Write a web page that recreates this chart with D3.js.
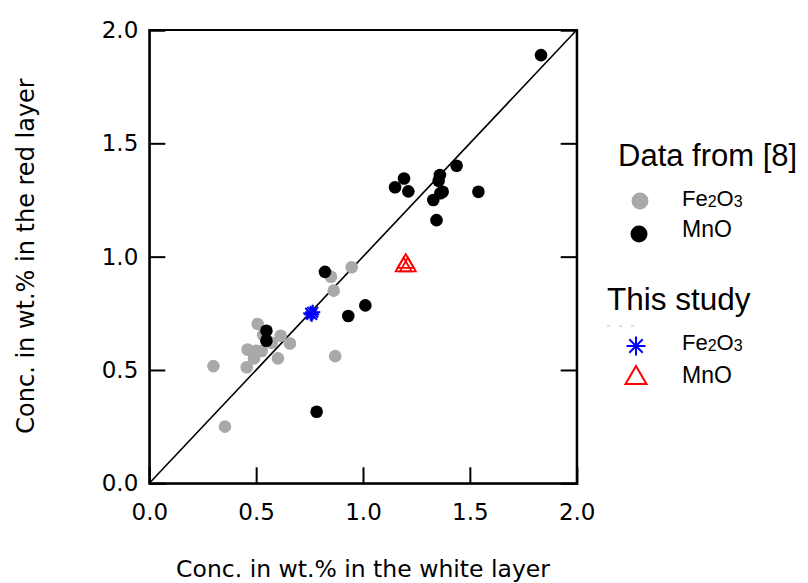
<!DOCTYPE html>
<html>
<head>
<meta charset="utf-8">
<script src="https://cdn.jsdelivr.net/npm/d3@7"></script>
<style>
  body { margin: 0; background: #fff; }
  .tick text { font-family: "DejaVu Sans", sans-serif; }
</style>
</head>
<body>
<div id="chart"></div>
<script>
// data (white layer, red layer)
const fe_lit = [
  [0.30, 0.517], [0.354, 0.25], [0.456, 0.512], [0.46, 0.59], [0.507, 0.703],
  [0.49, 0.551], [0.526, 0.584], [0.50, 0.585], [0.533, 0.654], [0.573, 0.62],
  [0.615, 0.651], [0.602, 0.551], [0.658, 0.617], [0.87, 0.561], [0.863, 0.85],
  [0.85, 0.911], [0.947, 0.953]
];
const mn_lit = [
  [0.548, 0.673], [0.548, 0.629], [0.783, 0.316], [0.822, 0.933], [0.931, 0.738],
  [1.011, 0.785], [1.150, 1.306], [1.192, 1.345], [1.212, 1.288], [1.438, 1.401],
  [1.360, 1.360], [1.354, 1.335], [1.373, 1.286], [1.362, 1.28], [1.329, 1.250],
  [1.344, 1.161], [1.540, 1.286], [1.833, 1.889]
];
const fe_study = [[0.755, 0.75], [0.765, 0.755], [0.76, 0.745]];
const mn_study = [[1.19, 0.96], [1.21, 0.96], [1.20, 0.975]];
const xTicks = [0, 0.5, 1.0, 1.5, 2.0];
const yTicks = [0, 0.5, 1.0, 1.5, 2.0];

const W = 808, H = 583;

const svg = d3.select("#chart").append("svg")
  .attr("width", W).attr("height", H);

const x = d3.scaleLinear().domain([0, 2]).range([149.3, 576.7]);
const y = d3.scaleLinear().domain([0, 2]).range([483.3, 30]);

// frame
svg.append("rect")
  .attr("x", x(0)).attr("y", y(2))
  .attr("width", x(2) - x(0)).attr("height", y(0) - y(2))
  .attr("fill", "none").attr("stroke", "#000").attr("stroke-width", 2);

// axes, ticks pointing inward
const fmt = d3.format(".1f");
const xAxis = svg.append("g").attr("transform", `translate(0,${y(0)})`)
  .call(d3.axisBottom(x).tickValues(xTicks).tickFormat(fmt).tickSize(-16).tickPadding(20));
const yAxis = svg.append("g").attr("transform", `translate(${x(0)},0)`)
  .call(d3.axisLeft(y).tickValues(yTicks).tickFormat(fmt).tickSize(-16).tickPadding(11));
const yAxisR = svg.append("g").attr("transform", `translate(${x(2)},0)`)
  .call(d3.axisRight(y).tickValues(yTicks).tickFormat("").tickSize(-16));

[xAxis, yAxis, yAxisR].forEach(g => {
  g.select(".domain").attr("stroke-width", 2);
  g.selectAll(".tick line").attr("stroke-width", 2);
  g.selectAll(".tick text").attr("font-size", 23).attr("fill", "#000");
});
xAxis.selectAll(".tick text").attr("dy", "0.71em");

// 1:1 line
svg.append("line")
  .attr("x1", x(0)).attr("y1", y(0)).attr("x2", x(2)).attr("y2", y(2))
  .attr("stroke", "#000").attr("stroke-width", 1.6);

// literature points
svg.append("g").selectAll("circle").data(fe_lit).enter().append("circle")
  .attr("cx", d => x(d[0])).attr("cy", d => y(d[1])).attr("r", 6.3)
  .attr("fill", "#a9a9a9");
svg.append("g").selectAll("circle").data(mn_lit).enter().append("circle")
  .attr("cx", d => x(d[0])).attr("cy", d => y(d[1])).attr("r", 6.3)
  .attr("fill", "#000");

// this study
function asterisk(g, cx, cy, r, color) {
  const a = g.append("g").attr("transform", `translate(${cx},${cy})`)
    .attr("stroke", color).attr("stroke-width", 2);
  [0, 45, 90, 135].forEach(ang => {
    const rad = ang * Math.PI / 180;
    a.append("line")
      .attr("x1", -r * Math.cos(rad)).attr("y1", -r * Math.sin(rad))
      .attr("x2", r * Math.cos(rad)).attr("y2", r * Math.sin(rad));
  });
}
const triangle = d3.symbol().type(d3.symbolTriangle).size(110);

const gs = svg.append("g");
fe_study.forEach(d => asterisk(gs, x(d[0]), y(d[1]), 7.5, "#0000ff"));
gs.selectAll("path.tri").data(mn_study).enter().append("path")
  .attr("class", "tri")
  .attr("d", triangle)
  .attr("transform", d => `translate(${x(d[0])},${y(d[1]) + 1})`)
  .attr("fill", "none").attr("stroke", "#ff0000").attr("stroke-width", 1.8);

// axis titles
svg.append("text")
  .attr("x", 363).attr("y", 577)
  .attr("text-anchor", "middle")
  .attr("font-family", "DejaVu Sans").attr("font-size", 23.5)
  .text("Conc. in wt.% in the white layer");
svg.append("text")
  .attr("transform", "translate(34,256) rotate(-90)")
  .attr("text-anchor", "middle")
  .attr("font-family", "DejaVu Sans").attr("font-size", 24)
  .text("Conc. in wt.% in the red layer");

// legend
const lg = svg.append("g").attr("font-family", "Liberation Sans, Arial, sans-serif");
lg.append("text").attr("x", 618).attr("y", 166).attr("font-size", 31).text("Data from [8]");
lg.append("circle").attr("cx", 640).attr("cy", 201).attr("r", 8.5).attr("fill", "#a9a9a9");
lg.append("circle").attr("cx", 639).attr("cy", 234).attr("r", 8.5).attr("fill", "#000");

function feLabel(yy) {
  const t = lg.append("text").attr("x", 682).attr("y", yy).attr("font-size", 22);
  t.append("tspan").text("Fe");
  t.append("tspan").attr("font-size", 16).attr("dy", 1).text("2");
  t.append("tspan").attr("dy", -1).text("O");
  t.append("tspan").attr("font-size", 16).attr("dy", 1).text("3");
}
feLabel(206);
lg.append("text").attr("x", 682).attr("y", 237).attr("font-size", 23).text("MnO");

lg.append("text").attr("x", 607).attr("y", 310).attr("font-size", 31.5).text("This study");
lg.append("line").attr("x1", 607).attr("y1", 326).attr("x2", 637).attr("y2", 326)
  .attr("stroke", "#bbb").attr("stroke-width", 1).attr("stroke-dasharray", "3,9");
asterisk(lg, 636, 346, 9.5, "#0000ff");
feLabel(350);
lg.append("path").attr("d", d3.symbol().type(d3.symbolTriangle).size(190))
  .attr("transform", "translate(636,378)")
  .attr("fill", "none").attr("stroke", "#ff0000").attr("stroke-width", 2);
lg.append("text").attr("x", 682).attr("y", 383).attr("font-size", 23).text("MnO");
</script>
</body>
</html>
